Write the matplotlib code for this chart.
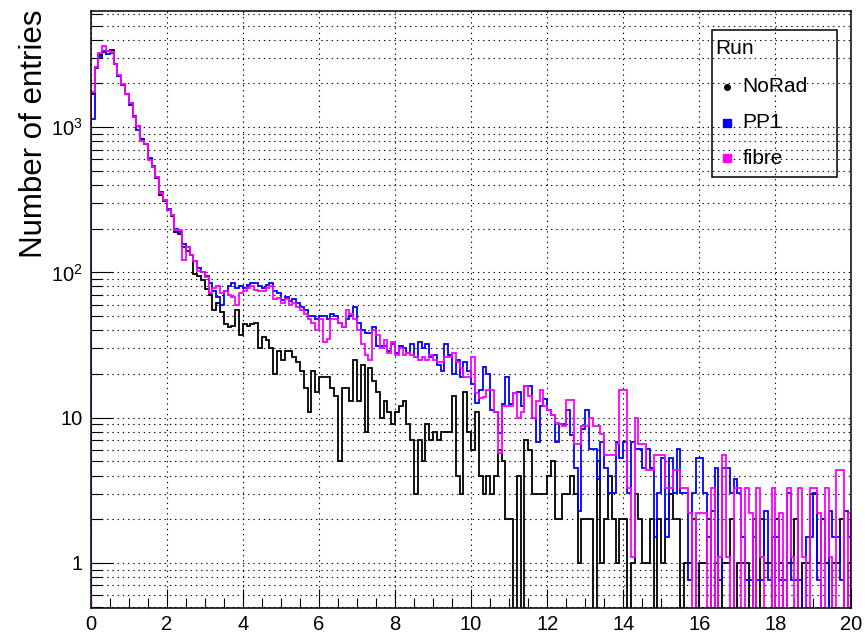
import numpy as np
import matplotlib.pyplot as plt
from matplotlib.patches import Rectangle
from matplotlib.ticker import FixedLocator, FixedFormatter, MultipleLocator, LogLocator, NullFormatter

plt.rcParams['font.family'] = ['Liberation Sans', 'DejaVu Sans']
plt.rcParams['mathtext.fontset'] = 'custom'
plt.rcParams['mathtext.rm'] = 'Liberation Sans'

# 200 bins of width 0.1 between 0 and 20
edges = np.linspace(0, 20, 201)

runs = ['NoRad', 'PP1', 'fibre']
colors = ['black', '#0000ff', '#ff00ff']

norad = [
    1700, 2600, 3150, 3300, 3350, 3400, 2720, 2260, 1980, 1690,
    1470, 1180, 1025, 830, 760, 600, 530, 450, 340, 310,
    270, 245, 190, 185, 150, 140, 131, 98, 95, 88,
    77, 70, 55, 62, 53, 44, 42, 43, 55, 37,
    44, 43, 44, 45, 30, 36, 34, 30, 20, 29,
    25, 29, 29, 26, 24, 21, 16, 11, 21, 15,
    19, 19, 19, 16, 14, 5, 16, 16, 13, 25,
    13, 23, 8, 22, 18, 15, 10, 13, 11, 9,
    11, 12, 13, 9, 7, 3, 7, 5, 9, 7,
    8, 7, 8, 8, 8, 14, 4, 3, 15, 8,
    6, 11, 4, 3, 4, 3, 4, 6, 5, 2,
    2, 0, 4, 0, 7, 6, 3, 3, 3, 3,
    4, 5, 2, 2, 3, 3, 4, 3, 1, 2,
    2, 2, 0, 5, 1, 2, 4, 2, 1, 2,
    2, 0, 1, 3, 2, 1, 1, 2, 0, 2,
    1, 2, 3, 2, 2, 0, 1, 1, 2, 0,
    1, 1, 2, 0, 1, 0, 1, 1, 2, 0,
    1, 1, 1, 0, 2, 0, 2, 1, 1, 0,
    2, 1, 0, 1, 1, 2, 0, 1, 1, 3,
    3, 1, 2, 1, 0, 1, 1, 2, 0, 1,
]

pp1 = [
    1140, 2550, 3020, 3320, 3210, 3250, 2700, 2250, 1950, 1680,
    1430, 1200, 960, 830, 760, 610, 540, 455, 360, 315,
    272, 250, 200, 190, 158, 150, 131, 120, 108, 100,
    95, 85, 75, 68, 60, 75, 80, 85, 78, 80,
    78, 82, 85, 85, 80, 78, 82, 85, 75, 72,
    65, 68, 64, 66, 62, 58, 55, 50, 50, 48,
    50, 50, 48, 52, 50, 45, 42, 48, 50, 58,
    45, 40, 38, 38, 42, 31, 31, 31, 29, 32,
    28, 31, 30, 28, 32, 26, 33, 30, 32, 26,
    27, 23, 21, 32, 27, 20, 25, 19, 24, 21,
    17, 12.6, 15.5, 22.4, 20, 11.3, 11, 7.8, 12.5, 19,
    12.5, 14.7, 15, 12, 16.5, 16.5, 10, 6.8, 12, 13.5,
    11.3, 10.5, 6.8, 9, 9.08, 11.36, 7.57, 4.54, 2.27, 8.33,
    11.36, 6.06, 6.06, 3.79, 6.81, 4.54, 3.03, 3.03, 6.81, 5.30,
    6.81, 3.03, 6.81, 6.06, 6.06, 4.54, 6.06, 4.54, 1.51, 3.03,
    5.30, 1.51, 5.30, 3.03, 6.06, 3.03, 3.03, 0.76, 3.03, 5.30,
    5.30, 3.03, 1.51, 2.27, 4.54, 0.76, 4.54, 4.54, 3.03, 3.79,
    3.03, 1.51, 0.76, 0.76, 1.51, 0.76, 0.76, 2.27, 0.76, 1.51,
    1.51, 0.76, 0.76, 3.03, 0.76, 0.76, 0.76, 0, 1.51, 1.51,
    3.03, 0.76, 0, 0, 2.27, 1.51, 1.51, 0.76, 2.27, 1.51,
]

fibre = [
    1735, 2600, 3213, 3590, 3355, 3270, 2720, 2300, 1980, 1700,
    1470, 1180, 1025, 807, 770, 590, 535, 452, 350, 313,
    271, 250, 195, 195, 121, 150, 131, 120, 103, 100,
    93, 72, 78, 80, 72, 75, 70, 68, 60, 72,
    74, 78, 80, 76, 75, 74, 78, 80, 66, 67,
    62, 66, 60, 62, 58, 55, 52, 48, 45, 40,
    48, 33, 35, 48, 48, 45, 42, 55, 52, 48,
    40, 32, 27, 25, 40, 37, 30, 34, 28, 33,
    27, 30, 27, 28, 27, 26, 25, 26, 25, 27,
    25, 24, 24, 26, 26, 28, 24, 22, 19, 19,
    26, 14.7, 13.7, 13.9, 15.5, 15.5, 11, 5.7, 12, 12,
    12, 14.7, 10, 11, 16.5, 14, 10, 13, 15.5, 12,
    11.3, 10.5, 9.2, 9, 8.8, 13.2, 13.2, 6.6, 6.6, 8.8,
    8.8, 9.9, 8.8, 8.8, 7.7, 5.5, 5.5, 5.5, 6.6, 15.4,
    15.4, 3.3, 1.1, 9.9, 6.6, 6.6, 4.4, 4.4, 5.5, 5.5,
    5.5, 3.3, 3.3, 4.4, 4.4, 3.3, 3.3, 2.2, 0, 2.2,
    2.2, 2.2, 0, 3.3, 0, 1.1, 5.5, 1.1, 0, 3.3,
    3.3, 0, 3.3, 2.2, 0, 3.3, 1.1, 0, 0, 3.3,
    0, 2.2, 0, 3.3, 1.1, 0, 3.3, 1.1, 0, 3.3,
    3.3, 2.2, 0, 3.3, 1.1, 0, 4.4, 4.4, 0, 2.2,
]

yticks = [1, 10, 100, 1000]
ytick_labels = ['1', '10', '$10^{2}$', '$10^{3}$']

W, H = 865, 638
fig = plt.figure(figsize=(W / 100, H / 100), dpi=100)
ax = fig.add_axes([90.7 / W, 30 / H, 760.8 / W, 597 / H])
ax.set_yscale('log')

for vals, col in zip([norad, pp1, fibre], colors):
    v = np.asarray(vals, dtype=float)
    v[v <= 0] = 1e-3  # empty bins drop below the frame
    ax.stairs(v, edges, baseline=1e-3, color=col, lw=1.3)

ax.set_xlim(0, 20)
ax.set_ylim(0.49, 6300)

ax.xaxis.set_major_locator(MultipleLocator(2))
ax.xaxis.set_minor_locator(MultipleLocator(0.5))
ax.yaxis.set_major_locator(FixedLocator(yticks))
ax.yaxis.set_major_formatter(FixedFormatter(ytick_labels))
ax.yaxis.set_minor_locator(LogLocator(base=10, subs=np.arange(2, 10), numticks=20))
ax.yaxis.set_minor_formatter(NullFormatter())

ax.tick_params(axis='both', which='both', direction='in', width=0.8, labelsize=14.5,
               top=False, right=False)
ax.tick_params(axis='x', which='major', length=14, pad=5)
ax.tick_params(axis='x', which='minor', length=7)
ax.tick_params(axis='y', which='major', length=16, pad=6)
ax.tick_params(axis='y', which='minor', length=8)

dots = (0, (1.2, 3.5))
ax.set_axisbelow(True)
ax.grid(True, axis='x', which='major', color='black', ls=dots, lw=0.8)
ax.grid(True, axis='y', which='both', color='black', ls=dots, lw=0.8)
for s in ax.spines.values():
    s.set_linewidth(1.1)

# overlay in pixel units for the axis title and the legend box
ov = fig.add_axes([0, 0, 1, 1])
ov.set_xlim(0, W)
ov.set_ylim(H, 0)
ov.axis('off')

ov.text(34, 10, 'Number of entries', rotation=90, ha='center', va='top', fontsize=22.5)

ov.add_patch(Rectangle((711.7, 30), 125, 146.5, fill=False, lw=1.1, ec='black'))
ov.text(715, 49, 'Run', ha='left', va='center', fontsize=15)
leg_y = [86.5, 123, 158]
markers = ['o', 's', 's']
sizes = [4, 5.5, 5.5]
for name, col, y, m, ms in zip(runs, colors, leg_y, markers, sizes):
    ov.plot([727], [y], marker=m, ms=ms, color=col, mec=col, ls='none')
    ov.text(742.5, y, name, ha='left', va='center', fontsize=15)

fig.savefig('out.png', dpi=100)
